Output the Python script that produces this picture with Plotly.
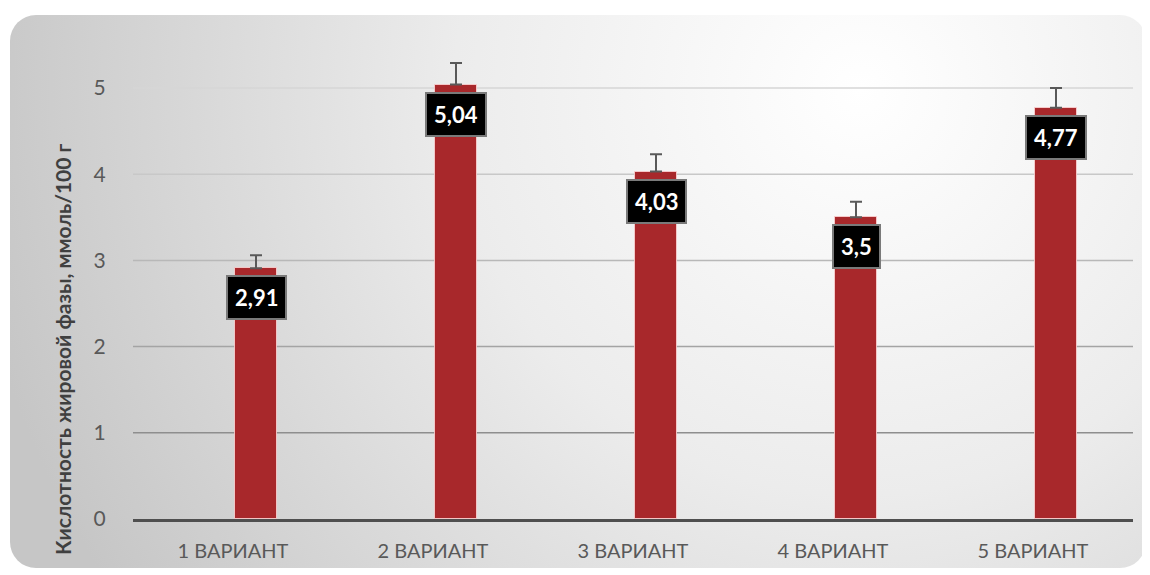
import plotly.graph_objects as go
import urllib.parse

categories = ["1 ВАРИАНТ", "2 ВАРИАНТ", "3 ВАРИАНТ", "4 ВАРИАНТ", "5 ВАРИАНТ"]
values = [2.91, 5.04, 4.03, 3.5, 4.77]
errors = [0.15, 0.25, 0.20, 0.18, 0.23]
labels = ["2,91", "5,04", "4,03", "3,5", "4,77"]
y_ticks = [0, 1, 2, 3, 4, 5]
grid_colors = ["#595959", "#8e8e8e", "#a4a4a4", "#b8b8b8", "#c8c8c8", "#d6d6d6"]
y_title = "Кислотность жировой фазы, ммоль/100 г"

# page body has an 8px margin, so the figure is drawn 8px smaller and offset
OFF = 8
W, H = 1150 - OFF, 575 - OFF
L, R, T, B = 133 - OFF, 17, 36 - OFF, 56
pw, ph = W - L - R, H - T - B

svg = f'''<svg xmlns="http://www.w3.org/2000/svg" width="{W}" height="{H}" viewBox="0 0 {W} {H}" preserveAspectRatio="none">
<defs><radialGradient id="g" gradientUnits="userSpaceOnUse" cx="{860-OFF}" cy="{90-OFF}" r="900">
<stop offset="0" stop-color="#ffffff"/><stop offset="0.45" stop-color="#ececec"/><stop offset="1" stop-color="#c6c6c6"/></radialGradient></defs>
<rect x="0" y="0" width="{W}" height="{H}" fill="#ffffff"/>
<rect x="{10-OFF}" y="{15-OFF}" width="1136" height="553" rx="26" ry="26" fill="url(#g)"/>
</svg>'''
src = "data:image/svg+xml;charset=utf-8," + urllib.parse.quote(svg)

fig = go.Figure()
fig.add_trace(go.Bar(
    x=categories, y=values, width=0.21, offset=0.01,
    marker=dict(color="#a8282b", line=dict(color="rgba(255,215,215,0.8)", width=1)),
    error_y=dict(type="data", array=errors, arrayminus=[0]*len(errors), symmetric=False,
                 color="#595959", thickness=2, width=6),
    hoverinfo="skip",
))

for c, v, t in zip(categories, values, labels):
    fig.add_annotation(x=c, y=v, text=f"<b>{t}</b>", showarrow=False, xshift=23,
                       yanchor="top", yshift=-7,
                       font=dict(family="Lato, Carlito, sans-serif", size=22, color="#ffffff"),
                       bgcolor="#000000", bordercolor="#7a7a7a", borderwidth=2, borderpad=7)

shapes = []
for yv, col in zip(y_ticks[1:], grid_colors[1:]):
    shapes.append(dict(type="line", xref="paper", yref="y", x0=0, x1=1, y0=yv, y1=yv,
                       line=dict(color=col, width=1.5), layer="below"))

fig.add_annotation(xref="paper", yref="paper", x=(62 - OFF - L) / pw, y=1 - (349 - OFF - T) / ph,
                   xanchor="center", yanchor="middle",
                   text=f"<b>{y_title}</b>", textangle=-90, showarrow=False,
                   font=dict(family="Lato, Carlito, sans-serif", size=21, color="#404040"))

fig.update_layout(
    width=W, height=H,
    margin=dict(l=L, r=R, t=T, b=B),
    paper_bgcolor="#ffffff", plot_bgcolor="rgba(0,0,0,0)",
    showlegend=False, bargap=0,
    shapes=shapes,
    images=[dict(source=src, xref="paper", yref="paper", x=-L / pw, y=1 + T / ph,
                 sizex=W / pw, sizey=H / ph, xanchor="left", yanchor="top",
                 sizing="stretch", layer="below")],
    font=dict(family="Lato, Carlito, sans-serif", color="#595959"),
)
fig.update_xaxes(showline=True, linecolor="#4f4f4f", linewidth=3, showgrid=False,
                 tickfont=dict(size=20, color="#595959"), ticks="outside", ticklen=12,
                 tickcolor="rgba(0,0,0,0)", fixedrange=True)
fig.update_yaxes(range=[0, ph / 86.2], tickvals=y_ticks, showgrid=False, zeroline=False,
                 showline=False, tickfont=dict(size=21, color="#595959"),
                 ticks="outside", ticklen=22, tickcolor="rgba(0,0,0,0)", fixedrange=True)

fig.write_html("out.html")
